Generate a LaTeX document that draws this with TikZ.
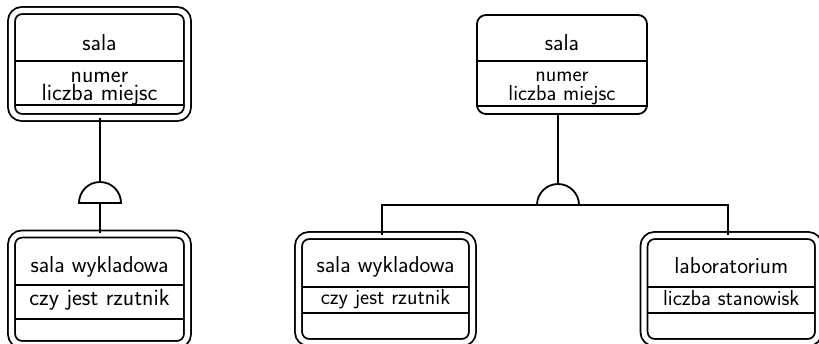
\documentclass[tikz,border=0pt]{standalone}
\usepackage{tikz}
\usetikzlibrary{positioning,calc}
\tikzset{
    entity/.style={rectangle, draw, line width=1.8pt, rounded corners=9pt, inner sep=0pt},
    weakentity/.style={entity, double, double distance=5.2pt, rounded corners=10.5pt},
    title/.style={anchor=base, inner sep=0pt, font=\sffamily\fontsize{23}{26}\selectfont},
    attr/.style={anchor=base, inner sep=0pt, align=center, font=\sffamily\fontsize{21.7}{19}\selectfont},
    bigattr/.style={attr, font=\sffamily\fontsize{23.5}{18}\selectfont},
    sepline/.style={line width=1.8pt},
    link/.style={line width=1.8pt}
}

\begin{document}
\begin{tikzpicture}[x=1pt, y=-1pt]
\clip (0,0) rectangle (819,343);

% left: one subclass
\node[weakentity, minimum width=176pt, minimum height=107pt] (sala1) at (99.5,64) {};
\node[title] (sala1name) at (99.5,50) {sala};
\node[bigattr] (sala1attr) at (99.5,100) {numer\\liczba miejsc};
\draw[sepline] (15,61) -- (184,61);
\draw[sepline] (15,105) -- (184,105);

\node[weakentity, minimum width=176pt, minimum height=110.5pt] (wyk1) at (99.5,289.25) {};
\node[title] (wyk1name) at (99.5,272) {sala wykladowa};
\node[bigattr] (wyk1attr) at (99.5,305) {czy jest rzutnik};
\draw[sepline] (15,285) -- (184,285);
\draw[sepline] (15,319) -- (184,319);

\coordinate (isa1) at (100,203);
\draw[link] (isa1) ++(-21,0) arc[start angle=180, end angle=0, radius=21pt] -- cycle;
\draw[link] (sala1.south -| isa1) -- ($(isa1)+(0,-21)$);
\draw[link] (isa1) -- (wyk1.north -| isa1);

% right: two subclasses
\node[entity, minimum width=170pt, minimum height=99pt] (sala2) at (562,64.5) {};
\node[title] (sala2name) at (562,50) {sala};
\node[attr] (sala2attr) at (562,100) {numer\\liczba miejsc};
\draw[sepline] (sala2.west |- 0,61) -- (sala2.east |- 0,61);
\draw[sepline] (sala2.west |- 0,106) -- (sala2.east |- 0,106);

\node[weakentity, minimum width=174pt, minimum height=107pt] (wyk2) at (385.5,289) {};
\node[title] (wyk2name) at (385.5,272) {sala wykladowa};
\node[attr] (wyk2attr) at (385.5,304) {czy jest rzutnik};
\draw[sepline] (302,287) -- (469,287);
\draw[sepline] (302,313) -- (469,313);

\node[weakentity, minimum width=174.5pt, minimum height=107pt] (lab2) at (731.25,289) {};
\node[title] (lab2name) at (731.25,273) {laboratorium};
\node[attr] (lab2attr) at (731.25,305) {liczba stanowisk};
\draw[sepline] (647.5,287) -- (815,287);
\draw[sepline] (647.5,313) -- (815,313);

\coordinate (isa2) at (558,205);
\coordinate (hub2l) at (382,205);
\coordinate (hub2r) at (728,205);
\draw[link] (isa2) ++(-21,0) arc[start angle=180, end angle=0, radius=21pt];
\draw[link] (sala2.south -| isa2) -- ($(isa2)+(0,-21)$);
\draw[link] (wyk2.north -| hub2l) -- (hub2l) -- (hub2r) -- (lab2.north -| hub2r);

\end{tikzpicture}
\end{document}
